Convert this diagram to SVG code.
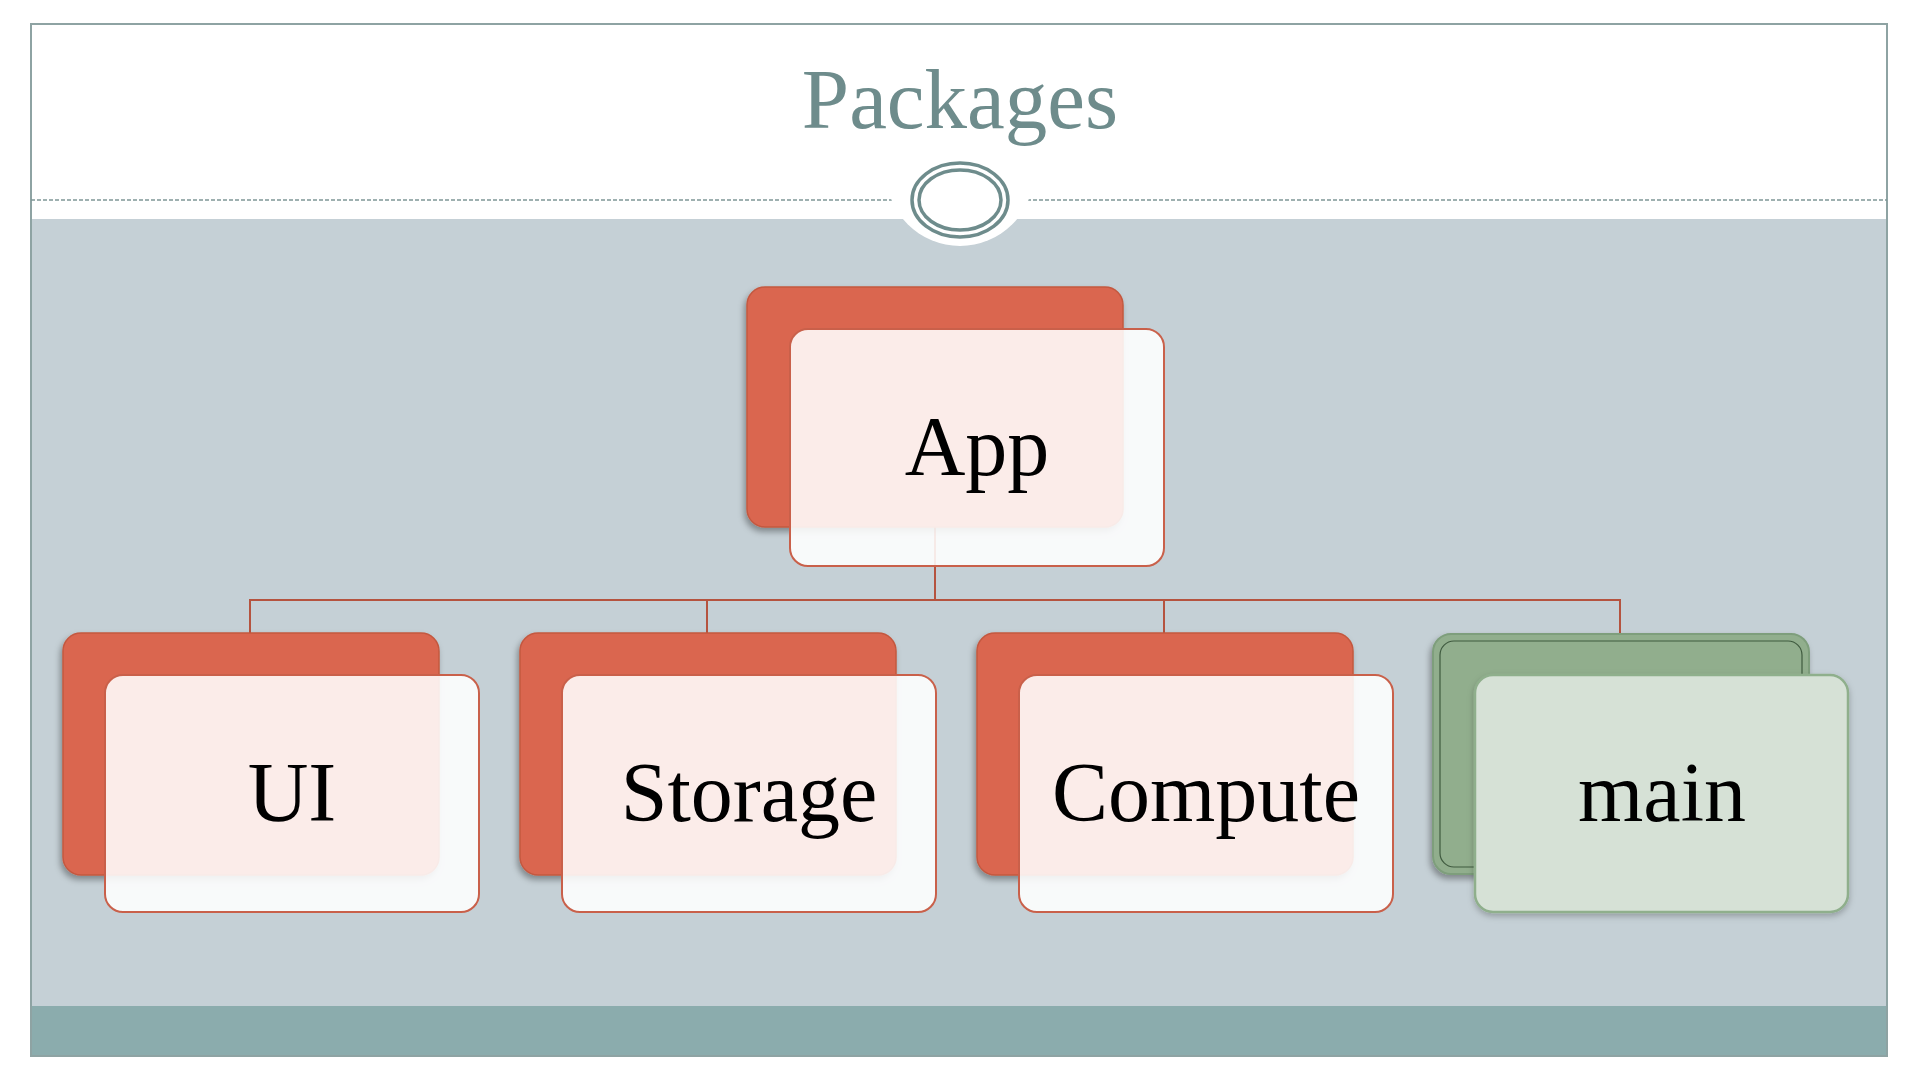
<svg xmlns="http://www.w3.org/2000/svg" width="1920" height="1080" viewBox="0 0 1920 1080">
<defs>
<filter id="sh" x="-10%" y="-10%" width="120%" height="130%">
<feDropShadow dx="-2" dy="4" stdDeviation="3" flood-color="#000" flood-opacity="0.35"/>
</filter>
<filter id="sh2" x="-10%" y="-10%" width="120%" height="130%">
<feDropShadow dx="0" dy="3" stdDeviation="3" flood-color="#000" flood-opacity="0.25"/>
</filter>
</defs>
<style>
.back{fill:#DA6650;stroke:#C4583F;stroke-width:1.5}
.front{fill:#FFFFFF;fill-opacity:0.88;stroke:#C9604A;stroke-width:2}
.gback{fill:#91AE8D;stroke:#7E9E7B;stroke-width:2}
.ginner{fill:none;stroke:#3F5A3F;stroke-width:1.2}
.gfront{fill:#D6E1D6;stroke:#8FAF8C;stroke-width:2.5}
.lbl{font-family:"Liberation Serif","Times New Roman",serif;font-size:84px;fill:#000;text-anchor:middle}
.conn{fill:none;stroke:#B5533F;stroke-width:2}
</style>
<rect x="0" y="0" width="1920" height="1080" fill="#FFFFFF"/>
<g id="frame">
<rect x="31" y="219" width="1856" height="787" fill="#C5D0D6"/>
<rect x="31" y="1006" width="1856" height="50" fill="#8BACAD"/>
<rect x="31" y="24" width="1856" height="1032" fill="none" stroke="#8EA3A3" stroke-width="2"/>
<line x1="31" y1="200" x2="1887" y2="200" stroke="#7F9696" stroke-width="1.5" stroke-dasharray="4,2"/>
<circle cx="960" cy="172" r="74" fill="#FFFFFF"/>
<ellipse cx="960" cy="200" rx="48" ry="37" fill="none" stroke="#6E8C8C" stroke-width="3.5"/>
<ellipse cx="960" cy="200" rx="41" ry="30" fill="none" stroke="#6E8C8C" stroke-width="3.5"/>
<text x="960" y="128" font-family="Liberation Serif,'Times New Roman',serif" font-size="85" fill="#6E8C8C" text-anchor="middle">Packages</text>
</g>
<g id="connectors">
<path class="conn" d="M935 527 V600"/>
<path class="conn" d="M250 633 V600 H1620 V633"/>
<path class="conn" d="M707 600 V633"/>
<path class="conn" d="M1164 600 V633"/>
</g>
<g id="node-app">
<rect class="back" x="747" y="287" width="376" height="240" rx="18" filter="url(#sh)"/>
<rect class="front" x="790" y="329" width="374" height="237" rx="18"/>
<text class="lbl" x="977" y="475">App</text>
</g>
<g id="node-ui">
<rect class="back" x="63" y="633" width="376" height="242" rx="18" filter="url(#sh)"/>
<rect class="front" x="105" y="675" width="374" height="237" rx="18"/>
<text class="lbl" x="292" y="821">UI</text>
</g>
<g id="node-storage">
<rect class="back" x="520" y="633" width="376" height="242" rx="18" filter="url(#sh)"/>
<rect class="front" x="562" y="675" width="374" height="237" rx="18"/>
<text class="lbl" x="749" y="821">Storage</text>
</g>
<g id="node-compute">
<rect class="back" x="977" y="633" width="376" height="242" rx="18" filter="url(#sh)"/>
<rect class="front" x="1019" y="675" width="374" height="237" rx="18"/>
<text class="lbl" x="1206" y="821">Compute</text>
</g>
<g id="node-main">
<rect class="gback" x="1433" y="634" width="376" height="240" rx="18" filter="url(#sh)"/>
<rect class="ginner" x="1440" y="641" width="362" height="226" rx="14"/>
<rect class="gfront" x="1475" y="675" width="373" height="237" rx="18" filter="url(#sh2)"/>
<text class="lbl" x="1662" y="821">main</text>
</g>
</svg>
